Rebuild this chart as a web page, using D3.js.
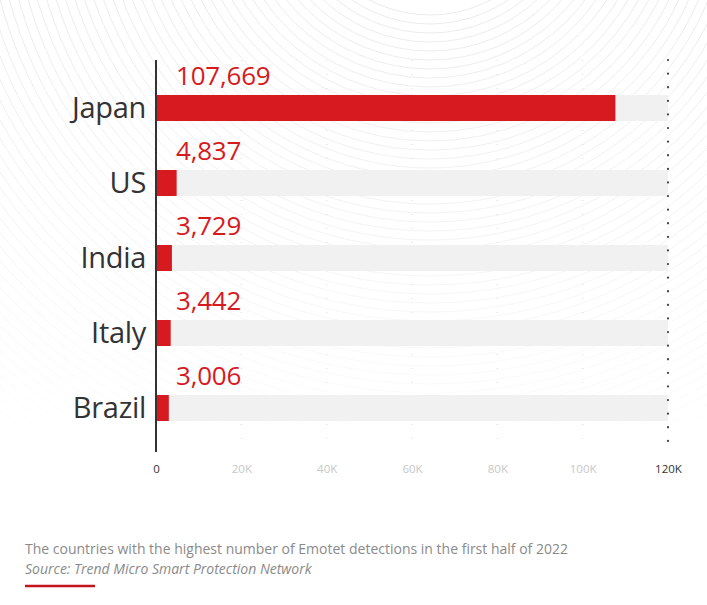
<!DOCTYPE html>
<html><head><meta charset="utf-8">
<script src="https://cdn.jsdelivr.net/npm/d3@7"></script>
<style>body{margin:0;background:#fff}svg{display:block}</style>
</head><body>
<svg id="c" width="707" height="605"></svg>
<script>
const countries = ["Japan","US","India","Italy","Brazil"];
const detections = [107669,4837,3729,3442,3006];
const tickValues = [0,20000,40000,60000,80000,100000,120000];
const tickLabels = ["0","20K","40K","60K","80K","100K","120K"];
const caption = "The countries with the highest number of Emotet detections in the first half of 2022";
const source = "Source: Trend Micro Smart Protection Network";

const svg = d3.select("#c");
const font = "'Open Sans', sans-serif";

// decorative background arcs
const defs = svg.append("defs");
const lg = defs.append("linearGradient").attr("id","fade").attr("x1",0).attr("y1",0).attr("x2",0).attr("y2",1);
lg.append("stop").attr("offset","0").attr("stop-color","#fff").attr("stop-opacity",0);
lg.append("stop").attr("offset","0.45").attr("stop-color","#fff").attr("stop-opacity",0.5);
lg.append("stop").attr("offset","0.75").attr("stop-color","#fff").attr("stop-opacity",1);
const bg = svg.append("g");
d3.range(130, 700, 9).forEach(r => {
  bg.append("circle").attr("cx", 430).attr("cy", -115).attr("r", r)
    .attr("fill", "none").attr("stroke", "#e6e6e6").attr("stroke-width", 0.8);
});
bg.append("rect").attr("x",0).attr("y",0).attr("width",707).attr("height",605).attr("fill","url(#fade)");

const x = d3.scaleLinear().domain([0,120000]).range([156,668]);
const y = d3.scaleBand().domain(countries).range([70,445]).paddingInner(0);
const barH = 26;
const barY = c => y(c) + y.bandwidth() - barH - 24;

// faint grid
tickValues.slice(1,-1).forEach(t => {
  svg.append("line").attr("x1",x(t)).attr("x2",x(t)).attr("y1",60).attr("y2",452)
    .attr("stroke","#d8d8d8").attr("stroke-width",1).attr("stroke-dasharray","1,13");
});

const g = svg.append("g");
countries.forEach((c,i) => {
  g.append("rect").attr("x",x(0)).attr("y",barY(c)).attr("width",x(120000)-x(0)).attr("height",barH).attr("fill","#f1f1f1");
  g.append("rect").attr("x",x(0)).attr("y",barY(c)).attr("width",x(detections[i])-x(0)).attr("height",barH).attr("fill","#d71920");
  g.append("text").attr("x",x(0)-10).attr("y",barY(c)+barH/2).attr("dy","0.36em")
    .attr("text-anchor","end").attr("font-family",font).attr("font-size",29).attr("fill","#333").attr("letter-spacing","-0.3")
    .text(c);
  g.append("text").attr("x",x(0)+20).attr("y",barY(c)-10)
    .attr("font-family",font).attr("font-size",26).attr("fill","#d71920").attr("letter-spacing","-0.2")
    .text(d3.format(",")(detections[i]));
});

// dotted right border
svg.append("line").attr("x1",x(120000)).attr("x2",x(120000)).attr("y1",60).attr("y2",452)
  .attr("stroke","#444").attr("stroke-width",2.2).attr("stroke-linecap","round").attr("stroke-dasharray","0.1,13.5");

// axis line
svg.append("line").attr("x1",x(0)).attr("x2",x(0)).attr("y1",60).attr("y2",452).attr("stroke","#333").attr("stroke-width",2);

// x tick labels
const axis = d3.axisBottom(x).tickValues(tickValues).tickSize(0).tickFormat((d,i)=>tickLabels[i]);
const ag = svg.append("g").attr("transform","translate(0,462)").call(axis);
ag.select(".domain").remove();
ag.selectAll("text").attr("font-family",font).attr("font-size",11.5)
  .attr("fill",(d,i)=> (i===0||i===tickValues.length-1) ? "#333" : "#c8c8c8");

// caption
svg.append("text").attr("x",25).attr("y",554).attr("font-family",font).attr("font-size",14).attr("fill","#8a8a8a").text(caption);
svg.append("text").attr("x",25).attr("y",574).attr("font-family",font).attr("font-size",14).attr("font-style","italic").attr("fill","#8a8a8a").text(source);
svg.append("line").attr("x1",25).attr("x2",95).attr("y1",586).attr("y2",586).attr("stroke","#c4161c").attr("stroke-width",2.5);
</script>
</body></html>
